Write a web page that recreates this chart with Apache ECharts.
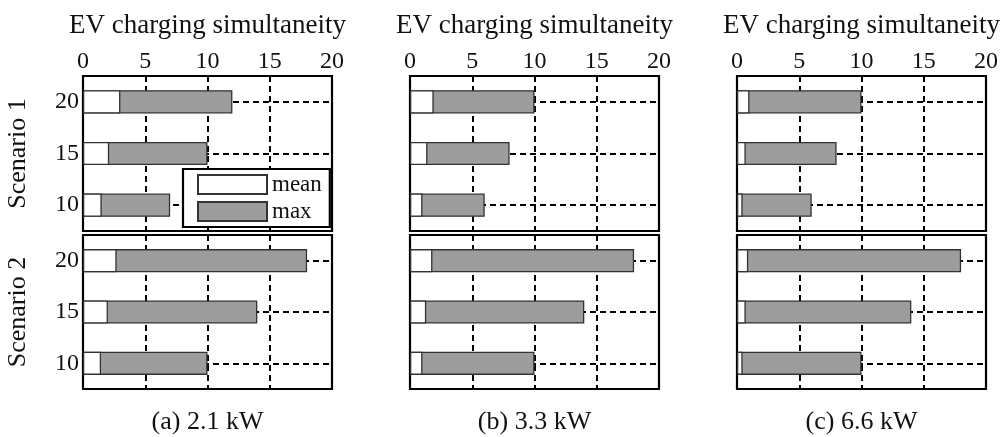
<!DOCTYPE html>
<html lang="en">
<head>
    <meta charset="UTF-8" />
    <title>EV charging simultaneity</title>
    <style>
      html, body { margin: 0; padding: 0; background: #fff; }
    </style>
</head>
<body>
<!-- chart -->
<div id="main" style="width: 1007px; height: 437px"></div>
<script src="https://cdn.jsdelivr.net/npm/echarts@6.0.0/dist/echarts.min.js"></script>
<script>
  // number of EVs per scenario (y categories)
  var evCounts = ["10", "15", "20"];
  var xTicks = [0, 5, 10, 15, 20];
  var panelNames = ["(a) 2.1 kW", "(b) 3.3 kW", "(c) 6.6 kW"];
  var scenarioNames = ["Scenario 1", "Scenario 2"];

  // mean / max simultaneity, [10, 15, 20] EVs
  var meanA1 = [1.5, 2.1, 3.0];
  var maxA1 = [7, 10, 12];
  var meanA2 = [1.45, 2.0, 2.7];
  var maxA2 = [10, 14, 18];

  var meanB1 = [1.0, 1.4, 1.9];
  var maxB1 = [6, 8, 10];
  var meanB2 = [1.0, 1.3, 1.8];
  var maxB2 = [10, 14, 18];

  var meanC1 = [0.45, 0.7, 1.0];
  var maxC1 = [6, 8, 10];
  var meanC2 = [0.45, 0.7, 0.9];
  var maxC2 = [10, 14, 18];

  // panels in row-major order: row 0 = scenario 1, row 1 = scenario 2
  var panels = [
    { mean: meanA1, max: maxA1 }, { mean: meanB1, max: maxB1 }, { mean: meanC1, max: maxC1 },
    { mean: meanA2, max: maxA2 }, { mean: meanB2, max: maxB2 }, { mean: meanC2, max: maxC2 }
  ];

  var font = "Liberation Serif";
  var colLeft = [83, 410, 737];
  var colWidth = 249;
  var rowTop = [76, 235];
  var rowHeight = [155, 154];

  var dashed = { color: "#000", type: [6, 4], width: 2 };

  var myChart = echarts.init(document.getElementById("main"));

  var grids = [], xAxes = [], yAxes = [], series = [], titles = [];
  panels.forEach(function (p, i) {
    var row = Math.floor(i / 3), col = i % 3;
    grids.push({
      left: colLeft[col], top: rowTop[row], width: colWidth, height: rowHeight[row],
      outerBoundsMode: "none", containLabel: false,
      show: true, borderColor: "#000", borderWidth: 2.2
    });
    xAxes.push({
      type: "value", gridIndex: i, position: "top",
      min: xTicks[0], max: xTicks[xTicks.length - 1], interval: 5,
      name: row === 0 ? "EV charging simultaneity" : "",
      nameLocation: "middle", nameGap: 37,
      nameTextStyle: { fontFamily: font, fontSize: 27, color: "#111" },
      axisLine: { show: false },
      axisTick: { show: false },
      axisLabel: { show: row === 0, fontFamily: font, fontSize: 24, color: "#111", margin: 2 },
      splitLine: { show: true, lineStyle: dashed }
    });
    yAxes.push({
      type: "category", gridIndex: i, data: evCounts,
      name: col === 0 ? scenarioNames[row] : "",
      nameLocation: "middle", nameRotate: 90, nameGap: 52,
      nameTextStyle: { fontFamily: font, fontSize: 26, color: "#111" },
      axisLine: { show: false },
      axisTick: { show: true, inside: true, alignWithLabel: true, length: 4, lineStyle: { color: "#000", width: 1.8 } },
      axisLabel: { show: col === 0, fontFamily: font, fontSize: 24, color: "#111", margin: 4 },
      splitLine: { show: false }
    });
    series.push({
      name: "max", type: "bar", xAxisIndex: i, yAxisIndex: i,
      data: p.max, barWidth: "45%", z: 3,
      itemStyle: { color: "#9d9d9d", borderColor: "#333", borderWidth: 1.3 },
      markLine: {
        silent: true, symbol: "none", z: 1, animation: false,
        label: { show: false },
        lineStyle: dashed,
        data: evCounts.map(function (c) { return { yAxis: c }; })
      }
    });
    series.push({
      name: "mean", type: "bar", xAxisIndex: i, yAxisIndex: i,
      data: p.mean, barWidth: "45%", barGap: "-100%", z: 3,
      itemStyle: { color: "#fff", borderColor: "#333", borderWidth: 1.3 }
    });
  });

  panelNames.forEach(function (n, col) {
    titles.push({
      text: n, left: colLeft[col] + colWidth / 2, top: 409, textAlign: "center", padding: 0,
      textStyle: { fontFamily: font, fontSize: 26, fontWeight: "normal", color: "#111" }
    });
  });

  var option = {
    animation: false,
    title: titles,
    legend: {
      data: ["mean", "max"], orient: "vertical",
      left: 183, top: 169,
      icon: "rect", itemWidth: 69, itemHeight: 19, itemGap: 4,
      padding: [4, 8, 4, 14],
      borderColor: "#000", borderWidth: 2.2, backgroundColor: "#fff",
      textStyle: { fontFamily: font, fontSize: 23, lineHeight: 19, color: "#111" }
    },
    grid: grids,
    xAxis: xAxes,
    yAxis: yAxes,
    series: series
  };
  myChart.setOption(option, true);
</script>
</body>
</html>
